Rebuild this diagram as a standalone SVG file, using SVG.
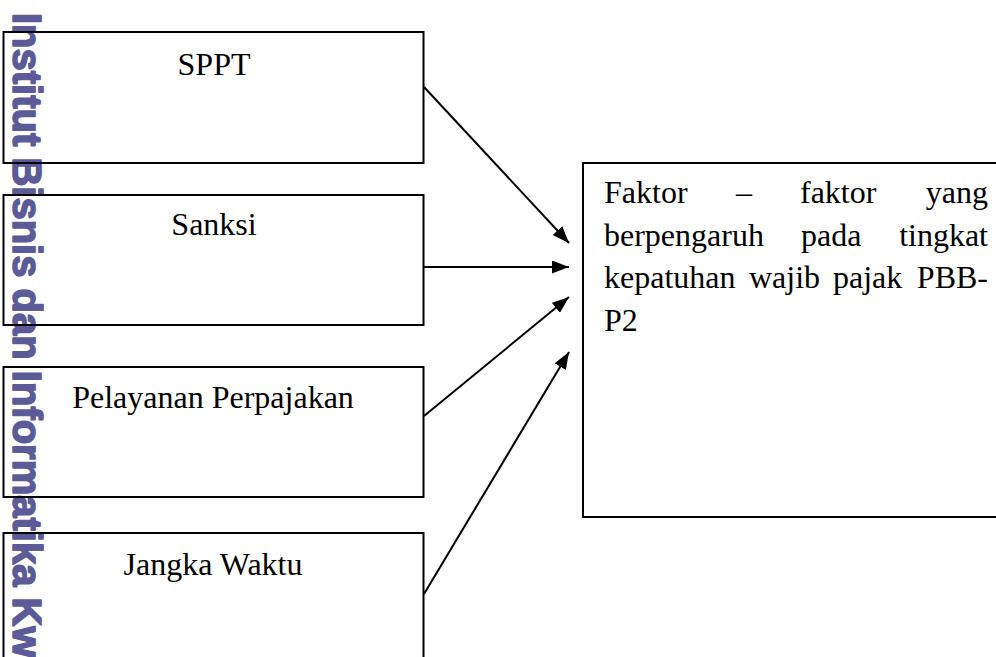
<svg xmlns="http://www.w3.org/2000/svg" width="996" height="657" viewBox="0 0 996 657">
  <defs>
    <style>
      .box { fill: none; stroke: #000; stroke-width: 2; }
      .lbl { font-family: "Liberation Serif", "Times New Roman", serif; font-size: 32px; fill: #000; }
      .edge { stroke: #000; stroke-width: 2; fill: none; marker-end: url(#arrow); }
      .wm { font-family: "Liberation Sans", Arial, sans-serif; font-weight: bold; font-size: 40px; fill: #5c5b97; stroke: #5c5b97; stroke-width: 1.6; stroke-linejoin: round; }
    </style>
    <marker id="arrow" markerUnits="userSpaceOnUse" markerWidth="17" markerHeight="13" refX="17" refY="6.5" orient="auto">
      <path d="M0,0 L17,6.5 L0,13 z" fill="#000"/>
    </marker>
  </defs>
  <rect width="996" height="657" fill="#fff"/>

  <text class="wm" transform="translate(13,13) rotate(90)">Institut Bisnis dan Informatika Kwi</text>

  <g id="node-sppt">
    <rect class="box" x="3.5" y="32" width="420" height="131"/>
    <text class="lbl" x="214" y="75" text-anchor="middle">SPPT</text>
  </g>
  <g id="node-sanksi">
    <rect class="box" x="3.5" y="195" width="420" height="130"/>
    <text class="lbl" x="214" y="235" text-anchor="middle">Sanksi</text>
  </g>
  <g id="node-pelayanan">
    <rect class="box" x="3.5" y="367" width="420" height="130"/>
    <text class="lbl" x="213" y="408" text-anchor="middle">Pelayanan Perpajakan</text>
  </g>
  <g id="node-jangka">
    <rect class="box" x="3.5" y="533" width="420" height="140"/>
    <text class="lbl" x="213" y="575" text-anchor="middle">Jangka Waktu</text>
  </g>
  <g id="node-faktor">
    <rect class="box" x="583" y="163" width="430" height="354"/>
    <text class="lbl">
      <tspan x="604" y="203">Faktor</tspan>
      <tspan x="736" y="203">–</tspan>
      <tspan x="800" y="203">faktor</tspan>
      <tspan x="988" y="203" text-anchor="end">yang</tspan>
    </text>
    <text class="lbl">
      <tspan x="604" y="246">berpengaruh</tspan>
      <tspan x="801" y="246">pada</tspan>
      <tspan x="988" y="246" text-anchor="end">tingkat</tspan>
    </text>
    <text class="lbl">
      <tspan x="604" y="288">kepatuhan</tspan>
      <tspan x="749" y="288">wajib</tspan>
      <tspan x="833" y="288">pajak</tspan>
      <tspan x="988" y="288" text-anchor="end">PBB-</tspan>
    </text>
    <text class="lbl" x="604" y="331">P2</text>
  </g>

  <g id="connectors">
    <line class="edge" x1="424" y1="87" x2="569" y2="243"/>
    <line class="edge" x1="424" y1="267" x2="569" y2="267"/>
    <line class="edge" x1="424" y1="416" x2="569" y2="297"/>
    <line class="edge" x1="424" y1="594" x2="569" y2="352"/>
  </g>
</svg>
